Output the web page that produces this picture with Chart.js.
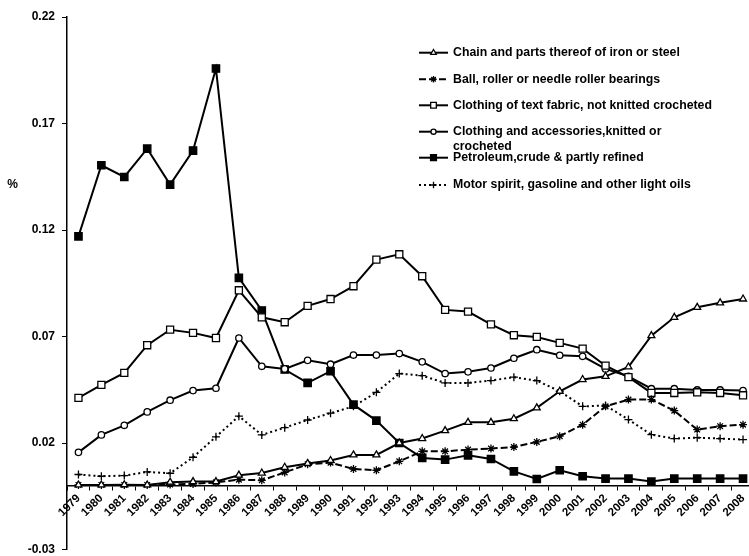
<!DOCTYPE html>
<html>
<head>
<meta charset="utf-8">
<script src="https://cdn.jsdelivr.net/npm/chart.js@4.4.1/dist/chart.umd.min.js"></script>
<style>
  html { margin: 0; padding: 0; overflow: hidden; background: #fff; }
  body { margin: 0; padding: 0; background: #fff; width: 761px; height: 556px; }
  #wrap { width: 761px; height: 556px; position: relative; }
  canvas { display: block; width: 761px; height: 556px; }
</style>
</head>
<body>
<div id="wrap"><canvas id="c" width="761" height="556"></canvas></div>
<script>
const years = ['1979','1980','1981','1982','1983','1984','1985','1986','1987','1988','1989','1990','1991','1992','1993','1994','1995','1996','1997','1998','1999','2000','2001','2002','2003','2004','2005','2006','2007','2008'];

const seriesNames = [
  'Chain and parts thereof of iron or steel',
  'Ball, roller or needle roller bearings',
  'Clothing of text fabric, not knitted crocheted',
  'Clothing and accessories,knitted or crocheted',
  'Petroleum,crude & partly refined',
  'Motor spirit, gasoline and other light oils'
];

const chain = [0.0003,0.0003,0.0004,0.0003,0.0016,0.0019,0.0019,0.0049,0.0059,0.0086,0.0104,0.0118,0.0144,0.0144,0.0200,0.0221,0.0258,0.0297,0.0297,0.0314,0.0365,0.0443,0.0498,0.0513,0.0557,0.0704,0.0790,0.0837,0.0858,0.0876];
const bearings = [0.0003,0.0003,0.0003,0.0003,0.0005,0.0008,0.0015,0.0028,0.0025,0.0062,0.0100,0.0108,0.0078,0.0072,0.0114,0.0161,0.0161,0.0169,0.0174,0.0181,0.0205,0.0232,0.0286,0.0372,0.0404,0.0404,0.0352,0.0263,0.0279,0.0286];
const fabric = [0.0412,0.0473,0.0529,0.0659,0.0732,0.0717,0.0693,0.0917,0.0790,0.0767,0.0844,0.0876,0.0936,0.1061,0.1086,0.0983,0.0825,0.0817,0.0757,0.0706,0.0698,0.0670,0.0643,0.0563,0.0509,0.0435,0.0435,0.0438,0.0435,0.0424];
const knitted = [0.0156,0.0238,0.0283,0.0346,0.0401,0.0446,0.0457,0.0693,0.0560,0.0548,0.0588,0.0570,0.0613,0.0613,0.0620,0.0581,0.0526,0.0534,0.0552,0.0598,0.0638,0.0612,0.0607,0.0548,0.0513,0.0455,0.0455,0.0449,0.0449,0.0446];
const petroleum = [0.1170,0.1504,0.1449,0.1582,0.1413,0.1573,0.1958,0.0975,0.0822,0.0545,0.0482,0.0537,0.0380,0.0305,0.0200,0.0130,0.0122,0.0142,0.0125,0.0067,0.0031,0.0072,0.0044,0.0033,0.0033,0.0019,0.0033,0.0033,0.0033,0.0033];
const motor = [0.0052,0.0044,0.0047,0.0064,0.0058,0.0133,0.0229,0.0326,0.0238,0.0272,0.0308,0.0340,0.0372,0.0438,0.0526,0.0516,0.0482,0.0482,0.0493,0.0509,0.0493,0.0443,0.0372,0.0376,0.0310,0.0239,0.0221,0.0225,0.0221,0.0216];

const yMin = -0.03, yMax = 0.22, yStep = 0.05;
const axisLabel = '%';

const FONT = 'Liberation Sans, Arial, sans-serif';

const styles = [
  { pointStyle: 'triangle', pointRadius: 4, bg: '#fff', dash: [] },
  { pointStyle: 'star', pointRadius: 4, bg: '#fff', dash: [7, 3] },
  { pointStyle: 'rect', pointRadius: 5, bg: '#fff', dash: [] },
  { pointStyle: 'circle', pointRadius: 3.2, bg: '#fff', dash: [] },
  { pointStyle: 'rect', pointRadius: 5.2, bg: '#000', dash: [] },
  { pointStyle: 'cross', pointRadius: 4, bg: '#fff', dash: [2, 3] }
];
const values = [chain, bearings, fabric, knitted, petroleum, motor];

const datasets = values.map((v, i) => ({
  label: seriesNames[i],
  data: v,
  borderColor: '#000',
  borderWidth: 2,
  borderDash: styles[i].dash,
  tension: 0,
  fill: false,
  pointStyle: styles[i].pointStyle,
  pointRadius: styles[i].pointRadius,
  pointBackgroundColor: styles[i].bg,
  pointBorderColor: '#000',
  pointBorderWidth: 1.3,
  pointHoverRadius: styles[i].pointRadius
}));

function drawMarker(ctx, style, r, bg, x, y) {
  ctx.save();
  ctx.setLineDash([]);
  ctx.lineWidth = 1.3;
  ctx.strokeStyle = '#000';
  ctx.fillStyle = bg;
  ctx.beginPath();
  if (style === 'rect') {
    const s = r * Math.SQRT1_2;
    ctx.rect(x - s, y - s, 2 * s, 2 * s);
    ctx.fill(); ctx.stroke();
  } else if (style === 'circle') {
    ctx.arc(x, y, r, 0, Math.PI * 2);
    ctx.fill(); ctx.stroke();
  } else if (style === 'triangle') {
    ctx.moveTo(x, y - r);
    ctx.lineTo(x + r * 0.866, y + r * 0.5);
    ctx.lineTo(x - r * 0.866, y + r * 0.5);
    ctx.closePath();
    ctx.fill(); ctx.stroke();
  } else if (style === 'cross') {
    ctx.moveTo(x - r, y); ctx.lineTo(x + r, y);
    ctx.moveTo(x, y - r); ctx.lineTo(x, y + r);
    ctx.stroke();
  } else if (style === 'star') {
    const d = r * 0.707;
    ctx.moveTo(x - r, y); ctx.lineTo(x + r, y);
    ctx.moveTo(x, y - r); ctx.lineTo(x, y + r);
    ctx.moveTo(x - d, y - d); ctx.lineTo(x + d, y + d);
    ctx.moveTo(x - d, y + d); ctx.lineTo(x + d, y - d);
    ctx.stroke();
  }
  ctx.restore();
}

const legendPlugin = {
  id: 'inlineLegend',
  afterDraw(chart) {
    const ctx = chart.ctx;
    const rows = [52.7, 79.3, 105.3, 131.7, 157.7, 185];
    const x1 = 419, x2 = 448, tx = 453;
    ctx.save();
    ctx.font = 'bold 12.3px ' + FONT;
    ctx.fillStyle = '#000';
    ctx.textBaseline = 'middle';
    ctx.textAlign = 'left';
    rows.forEach((y, i) => {
      const st = styles[i];
      ctx.save();
      ctx.strokeStyle = '#000';
      ctx.lineWidth = 2;
      ctx.setLineDash(st.dash);
      ctx.beginPath();
      ctx.moveTo(x1, y); ctx.lineTo(x2, y);
      ctx.stroke();
      ctx.restore();
      drawMarker(ctx, st.pointStyle, st.pointRadius * 0.8, st.bg, (x1 + x2) / 2, y);
      if (i === 3) {
        ctx.fillText('Clothing and accessories,knitted or', tx, y);
        ctx.fillText('crocheted', tx, y + 14.5);
      } else {
        ctx.fillText(seriesNames[i], tx, y);
      }
    });
    ctx.font = 'bold 12px ' + FONT;
    ctx.textAlign = 'center';
    ctx.fillText(axisLabel, 12.5, 185);
    ctx.restore();
  }
};

new Chart(document.getElementById('c'), {
  type: 'line',
  data: { labels: years, datasets },
  plugins: [legendPlugin],
  options: {
    responsive: false,
    animation: false,
    devicePixelRatio: 1,
    layout: { padding: { top: 17, right: 1, bottom: 6, left: 0 } },
    plugins: { legend: { display: false }, tooltip: { enabled: false } },
    scales: {
      x: {
        type: 'category',
        offset: true,
        position: { y: 0 },
        grid: { offset: true, drawOnChartArea: false, drawTicks: true, tickLength: 4, color: '#000', lineWidth: 1 },
        border: { display: true, color: '#000', width: 1.5 },
        ticks: {
          autoSkip: false, minRotation: 45, maxRotation: 45, padding: 2,
          color: '#000', font: { family: FONT, size: 11.5, weight: 'bold' }
        },
        afterFit: (scale) => { scale.paddingLeft = 0; scale.paddingRight = 0; }
      },
      y: {
        min: yMin, max: yMax,
        grid: { drawOnChartArea: false, drawTicks: true, tickLength: 5, color: '#000', lineWidth: 1 },
        border: { display: true, color: '#000', width: 1.5 },
        ticks: {
          stepSize: yStep, padding: 7, color: '#000',
          font: { family: FONT, size: 12, weight: 'bold' },
          callback: (v) => Number(v).toFixed(2)
        },
        afterFit: (scale) => { scale.width = 67; scale.paddingTop = 6; scale.paddingBottom = 6; }
      }
    }
  }
});
</script>
</body>
</html>
